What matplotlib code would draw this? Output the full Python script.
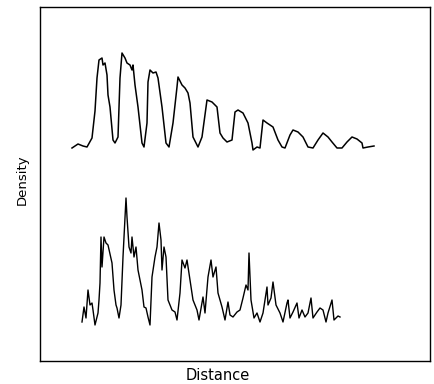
"""
Densitometer traces: density vs distance, two lanes.
"""

import matplotlib
matplotlib.use("Agg")
import matplotlib.pyplot as plt

# upper trace (regular banding, decaying peaks)
upper_dist = [32, 38, 43, 47, 52, 55, 57, 59, 62, 63, 65, 67, 68, 70, 73, 75, 78, 80,
              82, 85, 87, 90, 92, 93, 95, 98, 102, 104, 107, 108, 110, 113, 116, 118,
              122, 126, 129, 133, 136, 137, 138, 142, 145, 148, 150, 153, 158, 162, 167,
              172, 177, 180, 183, 187, 192, 195, 198, 203, 208, 212, 213, 217, 220, 223,
              227, 233, 238, 242, 245, 250, 253, 258, 263, 268, 273, 278, 283, 288, 292,
              297, 302, 307, 312, 317, 322, 323, 328, 334]
upper_dens = [213, 217, 215, 214, 223, 250, 283, 301, 303, 296, 298, 286, 266, 254, 221,
              218, 224, 283, 308, 303, 298, 296, 291, 296, 276, 254, 218, 214, 238, 279,
              291, 288, 289, 283, 254, 218, 214, 238, 265, 274, 284, 276, 273, 268, 258,
              224, 214, 224, 261, 259, 254, 228, 223, 219, 221, 249, 251, 248, 238, 218,
              211, 214, 213, 241, 238, 234, 221, 214, 213, 226, 231, 229, 224, 214, 213,
              221, 228, 224, 219, 213, 213, 219, 224, 222, 218, 213, 214, 215]

# lower trace (noisy lane)
lower_dist = [42, 44, 46, 48, 50, 52, 53, 55, 58, 59, 60, 61, 62, 64, 66, 68, 72, 74,
              76, 77, 79, 81, 83, 86, 87, 89, 91, 92, 94, 96, 98, 102, 104, 106, 108,
              110, 112, 115, 117, 119, 121, 122, 124, 126, 128, 132, 135, 137, 140, 142,
              145, 147, 150, 153, 157, 159, 163, 165, 168, 171, 173, 176, 178, 182, 185,
              188, 190, 193, 197, 200, 203, 206, 208, 209, 211, 214, 217, 220, 223, 227,
              228, 231, 233, 236, 240, 243, 247, 248, 250, 253, 257, 259, 262, 265, 268,
              271, 273, 277, 280, 283, 286, 288, 292, 294, 298, 300]
lower_dens = [39, 54, 43, 71, 56, 58, 51, 36, 48, 61, 78, 124, 94, 124, 118, 116, 98, 71,
              56, 53, 43, 56, 104, 163, 144, 114, 108, 124, 104, 114, 91, 71, 54, 53, 44,
              36, 84, 104, 114, 138, 121, 91, 114, 104, 61, 51, 49, 41, 68, 101, 93, 101,
              81, 61, 51, 41, 64, 48, 84, 101, 84, 94, 68, 54, 41, 59, 46, 44, 49, 51,
              63, 76, 71, 108, 61, 43, 48, 39, 48, 74, 56, 63, 79, 56, 48, 39, 58, 61,
              43, 49, 58, 43, 51, 44, 48, 63, 43, 49, 53, 51, 39, 48, 61, 41, 45, 44]

fig = plt.figure(figsize=(4.35, 3.84), dpi=100)
ax = fig.add_axes([40 / 435, 23 / 384, 390 / 435, 354 / 384])

ax.plot(upper_dist, upper_dens, color='black', linewidth=1.1)
ax.plot(lower_dist, lower_dens, color='black', linewidth=1.0)

ax.set_xlim(0, 390)
ax.set_ylim(0, 354)
ax.set_xticks([])
ax.set_yticks([])
for s in ax.spines.values():
    s.set_linewidth(1.0)

fig.text(22 / 435, 1 - 180 / 384, 'Density', rotation=90, ha='center', va='center',
         fontsize=9.5)
fig.text(218 / 435, 1 - 376 / 384, 'Distance', ha='center', va='center', fontsize=10.5)

fig.savefig('out.png', dpi=100)
